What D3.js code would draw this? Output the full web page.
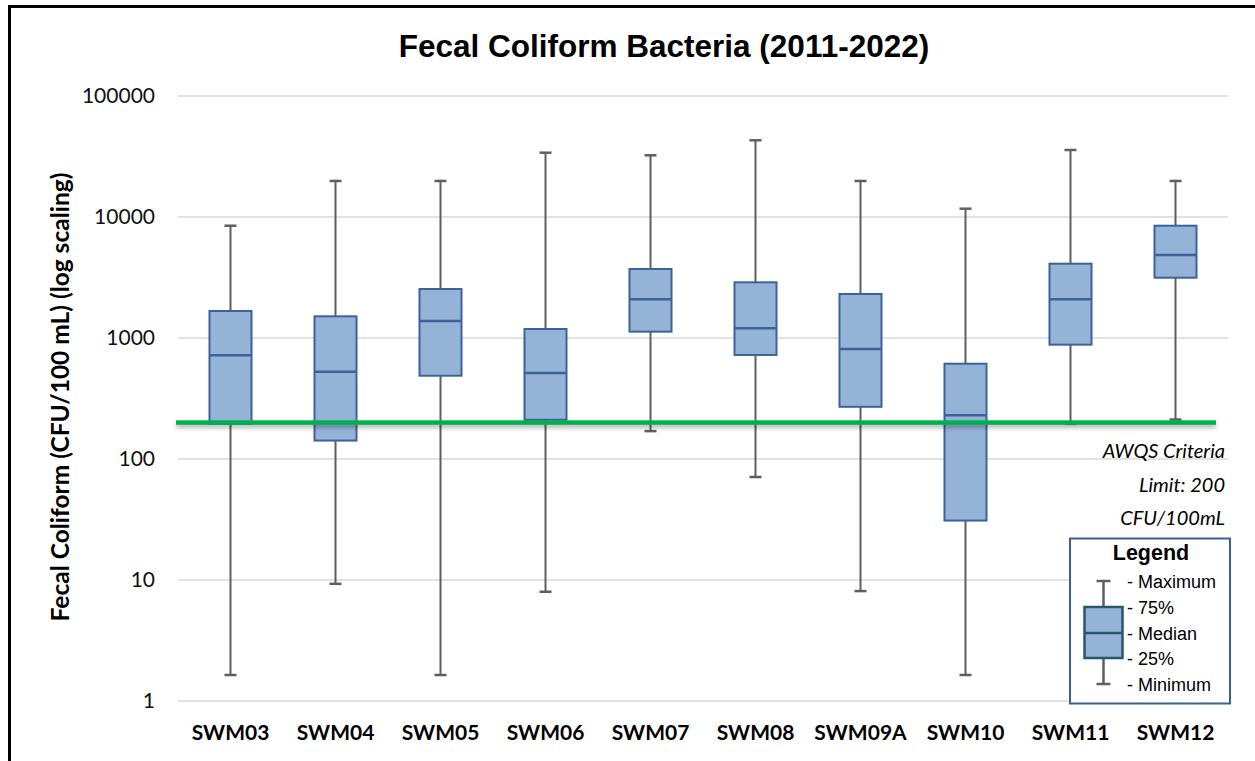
<!DOCTYPE html>
<html>
<head>
<meta charset="utf-8">
<script src="https://cdn.jsdelivr.net/npm/d3@7"></script>
<style>
  html, body { margin: 0; padding: 0; background: #fff; }
  svg { display: block; }
</style>
</head>
<body>
<svg id="chart" width="1255" height="761"></svg>
<script>
// Sampling stations
const categories = ["SWM03", "SWM04", "SWM05", "SWM06", "SWM07", "SWM08", "SWM09A", "SWM10", "SWM11", "SWM12"];
// Five-number summaries, CFU/100 mL
const minVals    = [1.64, 9.3, 1.64, 8, 170, 71, 8.1, 1.64, 195, 212];
const q1Vals     = [195, 142, 488, 211, 1128, 724, 270, 31, 881, 3150];
const medianVals = [719, 527, 1382, 514, 2089, 1203, 811, 230, 2089, 4853];
const q3Vals     = [1672, 1511, 2541, 1187, 3717, 2886, 2311, 613, 4113, 8472];
const maxVals    = [8470, 19850, 19850, 34000, 32350, 43050, 19850, 11720, 35800, 19850];
// Axis ticks
const yTicks = [1, 10, 100, 1000, 10000, 100000];
// AWQS criteria limit
const criteriaLimit = 200;
const criteriaText = ["AWQS Criteria", "Limit: 200", "CFU/100mL"];
const legendLabels = ["- Maximum", "- 75%", "- Median", "- 25%", "- Minimum"];

const svg = d3.select("#chart");
const W = 1255, H = 761;
const plot = { left: 178, right: 1228, top: 96, bottom: 701 };

const rows = categories.map((c, i) => ({
  name: c, min: minVals[i], q1: q1Vals[i], med: medianVals[i], q3: q3Vals[i], max: maxVals[i]
}));

const x = d3.scaleBand().domain(categories).range([plot.left, plot.right]);
const y = d3.scaleLog().domain([1, 100000]).range([plot.bottom, plot.top]);

const boxW = x.bandwidth() * 0.4;
const capW = 12;

// Soft shadow under the criteria line
const defs = svg.append("defs");
const f = defs.append("filter").attr("id", "lineShadow")
  .attr("filterUnits", "userSpaceOnUse")
  .attr("x", 0).attr("y", 0).attr("width", W).attr("height", H);
f.append("feDropShadow").attr("dx", 0).attr("dy", 3).attr("stdDeviation", 2)
  .attr("flood-color", "#000").attr("flood-opacity", 0.3);

// Outer frame (top and left edges)
svg.append("path")
  .attr("d", `M9.5,${H} V6.5 H${W}`)
  .attr("fill", "none").attr("stroke", "#000").attr("stroke-width", 3);

// Title
svg.append("text")
  .attr("x", 664).attr("y", 57)
  .attr("text-anchor", "middle")
  .attr("font-family", "'Liberation Sans', Arial, sans-serif")
  .attr("font-weight", "bold").attr("font-size", 31.5)
  .attr("fill", "#000")
  .text("Fecal Coliform Bacteria (2011-2022)");

// Gridlines
svg.append("g").selectAll("line").data(yTicks).join("line")
  .attr("x1", plot.left).attr("x2", plot.right)
  .attr("y1", d => y(d)).attr("y2", d => y(d))
  .attr("stroke", "#d9d9d9").attr("stroke-width", 1.5);

// Y axis labels
const yAxis = d3.axisLeft(y).tickValues(yTicks).tickFormat(d3.format("d")).tickSize(0).tickPadding(0);
const yG = svg.append("g").attr("transform", `translate(155,0)`).call(yAxis);
yG.select(".domain").remove();
yG.selectAll("text")
  .attr("font-family", "Lato, 'Open Sans', sans-serif")
  .attr("font-size", 21).attr("fill", "#111");

// Y axis title
svg.append("text")
  .attr("transform", "translate(69,397) rotate(-90)")
  .attr("text-anchor", "middle")
  .attr("font-family", "Lato, 'Open Sans', sans-serif")
  .attr("font-weight", "bold").attr("font-size", 24.5)
  .attr("fill", "#000")
  .text("Fecal Coliform (CFU/100 mL) (log scaling)");

// X axis labels
const xAxis = d3.axisBottom(x).tickSize(0).tickPadding(0);
const xG = svg.append("g").attr("transform", `translate(0,723)`).call(xAxis);
xG.select(".domain").remove();
xG.selectAll("text")
  .attr("dy", "0.8em")
  .attr("font-family", "Lato, 'Open Sans', sans-serif")
  .attr("font-weight", "bold").attr("font-size", 21)
  .attr("fill", "#000");

// Box plots
const boxes = svg.append("g").selectAll("g").data(rows).join("g")
  .attr("transform", d => `translate(${x(d.name) + x.bandwidth() / 2},0)`);

const whiskerColor = "#5f5f5f";
boxes.append("line")
  .attr("x1", 0).attr("x2", 0)
  .attr("y1", d => y(d.min)).attr("y2", d => y(d.max))
  .attr("stroke", whiskerColor).attr("stroke-width", 2);
boxes.append("line")
  .attr("x1", -capW / 2).attr("x2", capW / 2)
  .attr("y1", d => y(d.max)).attr("y2", d => y(d.max))
  .attr("stroke", whiskerColor).attr("stroke-width", 2.5);
boxes.append("line")
  .attr("x1", -capW / 2).attr("x2", capW / 2)
  .attr("y1", d => y(d.min)).attr("y2", d => y(d.min))
  .attr("stroke", whiskerColor).attr("stroke-width", 2.5);
boxes.append("rect")
  .attr("x", -boxW / 2).attr("width", boxW)
  .attr("y", d => y(d.q3)).attr("height", d => y(d.q1) - y(d.q3))
  .attr("fill", "#95b3d7").attr("stroke", "#3a6399").attr("stroke-width", 2);
boxes.append("line")
  .attr("x1", -boxW / 2).attr("x2", boxW / 2)
  .attr("y1", d => y(d.med)).attr("y2", d => y(d.med))
  .attr("stroke", "#3a6399").attr("stroke-width", 2.5);

// Criteria line
const lineW = 4.5;
svg.append("rect")
  .attr("x", plot.left - 2).attr("width", plot.right - 12 - (plot.left - 2))
  .attr("y", y(criteriaLimit) - lineW / 2).attr("height", lineW)
  .attr("fill", "#00b050")
  .attr("filter", "url(#lineShadow)");

// Criteria annotation
svg.append("text")
  .attr("text-anchor", "end")
  .attr("font-family", "Lato, 'Open Sans', sans-serif")
  .attr("font-style", "italic").attr("font-size", 20)
  .attr("fill", "#000")
  .selectAll("tspan").data(criteriaText).join("tspan")
  .attr("x", 1225).attr("y", (d, i) => 458 + i * 33.5)
  .text(d => d);

// Legend
const lg = svg.append("g");
lg.append("rect")
  .attr("x", 1070).attr("y", 538.5).attr("width", 160).attr("height", 165)
  .attr("fill", "#fff").attr("stroke", "#3b5f8f").attr("stroke-width", 2);
lg.append("text")
  .attr("x", 1151).attr("y", 560)
  .attr("text-anchor", "middle")
  .attr("font-family", "'Liberation Sans', Arial, sans-serif")
  .attr("font-weight", "bold").attr("font-size", 21.5)
  .attr("fill", "#000").text("Legend");

const lx = 1103.5;
const ly = [581, 607, 633, 658, 684];
lg.append("line").attr("x1", lx).attr("x2", lx).attr("y1", ly[0]).attr("y2", ly[4])
  .attr("stroke", whiskerColor).attr("stroke-width", 2.5);
[ly[0], ly[4]].forEach(v => lg.append("line")
  .attr("x1", lx - 7).attr("x2", lx + 7).attr("y1", v).attr("y2", v)
  .attr("stroke", whiskerColor).attr("stroke-width", 2.5));
lg.append("rect").attr("x", lx - 19).attr("width", 38)
  .attr("y", ly[1]).attr("height", ly[3] - ly[1])
  .attr("fill", "#95b3d7").attr("stroke", "#24586b").attr("stroke-width", 2.5);
lg.append("line").attr("x1", lx - 19).attr("x2", lx + 19).attr("y1", ly[2]).attr("y2", ly[2])
  .attr("stroke", "#24586b").attr("stroke-width", 2.5);
lg.append("g").selectAll("text").data(legendLabels).join("text")
  .attr("x", 1127).attr("y", (d, i) => ly[i] + 6.5)
  .attr("font-family", "'Liberation Sans', Arial, sans-serif")
  .attr("font-size", 18).attr("fill", "#000")
  .text(d => d);
</script>
</body>
</html>
